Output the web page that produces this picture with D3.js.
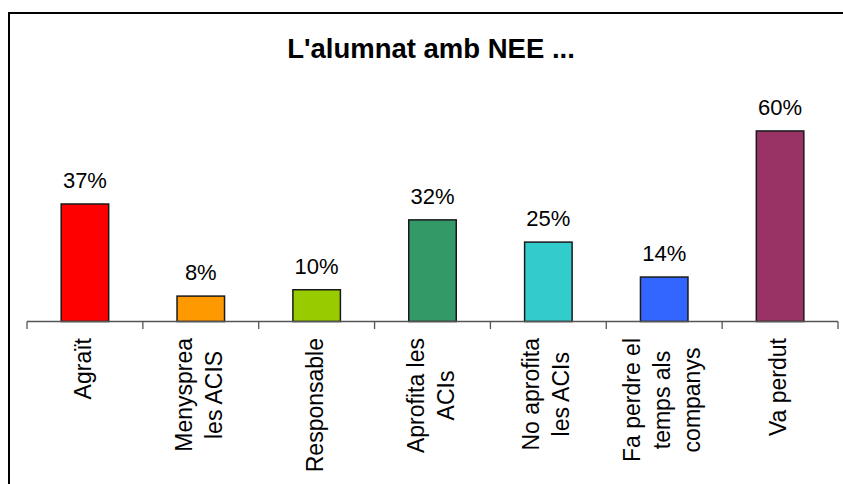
<!DOCTYPE html>
<html>
<head>
<meta charset="utf-8">
<script src="https://cdn.jsdelivr.net/npm/d3@7"></script>
<style>
  body { margin: 0; background: #fff; }
  text { font-family: "Liberation Sans", Arial, sans-serif; fill: #000; }
</style>
</head>
<body>
<div id="chart"></div>
<script>
// data
var categories = [
  ["Agraït"],
  ["Menysprea", "les ACIS"],
  ["Responsable"],
  ["Aprofita les", "ACIs"],
  ["No aprofita", "les ACIs"],
  ["Fa perdre el", "temps als", "companys"],
  ["Va perdut"]
];
var values = [37, 8, 10, 32, 25, 14, 60];
var colors = ["#ff0000", "#ff9900", "#99cc00", "#339966", "#33cccc", "#3366ff", "#993366"];
var title = "L'alumnat amb NEE ...";

var width = 843, height = 484;
var svg = d3.select("#chart").append("svg")
    .attr("width", width)
    .attr("height", height);

// outer frame (only top and left edge fall inside the picture)
svg.append("rect")
    .attr("x", 9).attr("y", 13)
    .attr("width", 860).attr("height", 500)
    .attr("fill", "none")
    .attr("stroke", "#000")
    .attr("stroke-width", 2);

svg.append("text")
    .attr("x", 431).attr("y", 58)
    .attr("text-anchor", "middle")
    .style("font-weight", "bold")
    .style("font-size", "27.5px")
    .text(title);

var x = d3.scaleBand()
    .domain(d3.range(values.length))
    .range([27, 838])
    .paddingInner(0)
    .paddingOuter(0);

var y = d3.scaleLinear()
    .domain([0, 70])
    .range([321.5, 99.2]);

var barW = x.bandwidth() * 0.41;

// bars
svg.selectAll("rect.bar")
    .data(values)
  .enter().append("rect")
    .attr("class", "bar")
    .attr("x", function (d, i) { return x(i) + (x.bandwidth() - barW) / 2; })
    .attr("y", function (d) { return y(d); })
    .attr("width", barW)
    .attr("height", function (d) { return y(0) - y(d); })
    .attr("fill", function (d, i) { return colors[i]; })
    .attr("stroke", "#1a1a1a")
    .attr("stroke-width", 1.5);

// value labels
svg.selectAll("text.val")
    .data(values)
  .enter().append("text")
    .attr("class", "val")
    .attr("x", function (d, i) { return x(i) + x.bandwidth() / 2; })
    .attr("y", function (d) { return y(d) - 16; })
    .attr("text-anchor", "middle")
    .style("font-size", "22px")
    .text(function (d) { return d + "%"; });

// x axis: line + ticks at band edges
var axis = svg.append("g");
axis.append("line")
    .attr("x1", 27).attr("x2", 838)
    .attr("y1", 321.5).attr("y2", 321.5)
    .attr("stroke", "#555").attr("stroke-width", 1.3);
axis.selectAll("line.tick")
    .data(d3.range(values.length + 1))
  .enter().append("line")
    .attr("class", "tick")
    .attr("x1", function (i) { return i < values.length ? x(i) : x(i - 1) + x.bandwidth(); })
    .attr("x2", function (i) { return i < values.length ? x(i) : x(i - 1) + x.bandwidth(); })
    .attr("y1", 321.5).attr("y2", 329)
    .attr("stroke", "#555").attr("stroke-width", 1.3);

// rotated category labels, lines centred on each other, top of block at 338
var lineGap = 30;
categories.forEach(function (lines, i) {
    var cx = x(i) + x.bandwidth() / 2;
    var g = svg.append("g");
    var texts = lines.map(function (s) {
        return g.append("text")
            .attr("text-anchor", "middle")
            .style("font-size", "23px")
            .text(s);
    });
    var maxLen = d3.max(texts, function (t) { return t.node().getComputedTextLength(); });
    var midY = 338 + maxLen / 2;
    texts.forEach(function (t, k) {
        var lx = cx + (k - (lines.length - 1) / 2) * lineGap + 6;
        t.attr("transform", "translate(" + lx + "," + midY + ") rotate(-90)");
    });
});
</script>
</body>
</html>
